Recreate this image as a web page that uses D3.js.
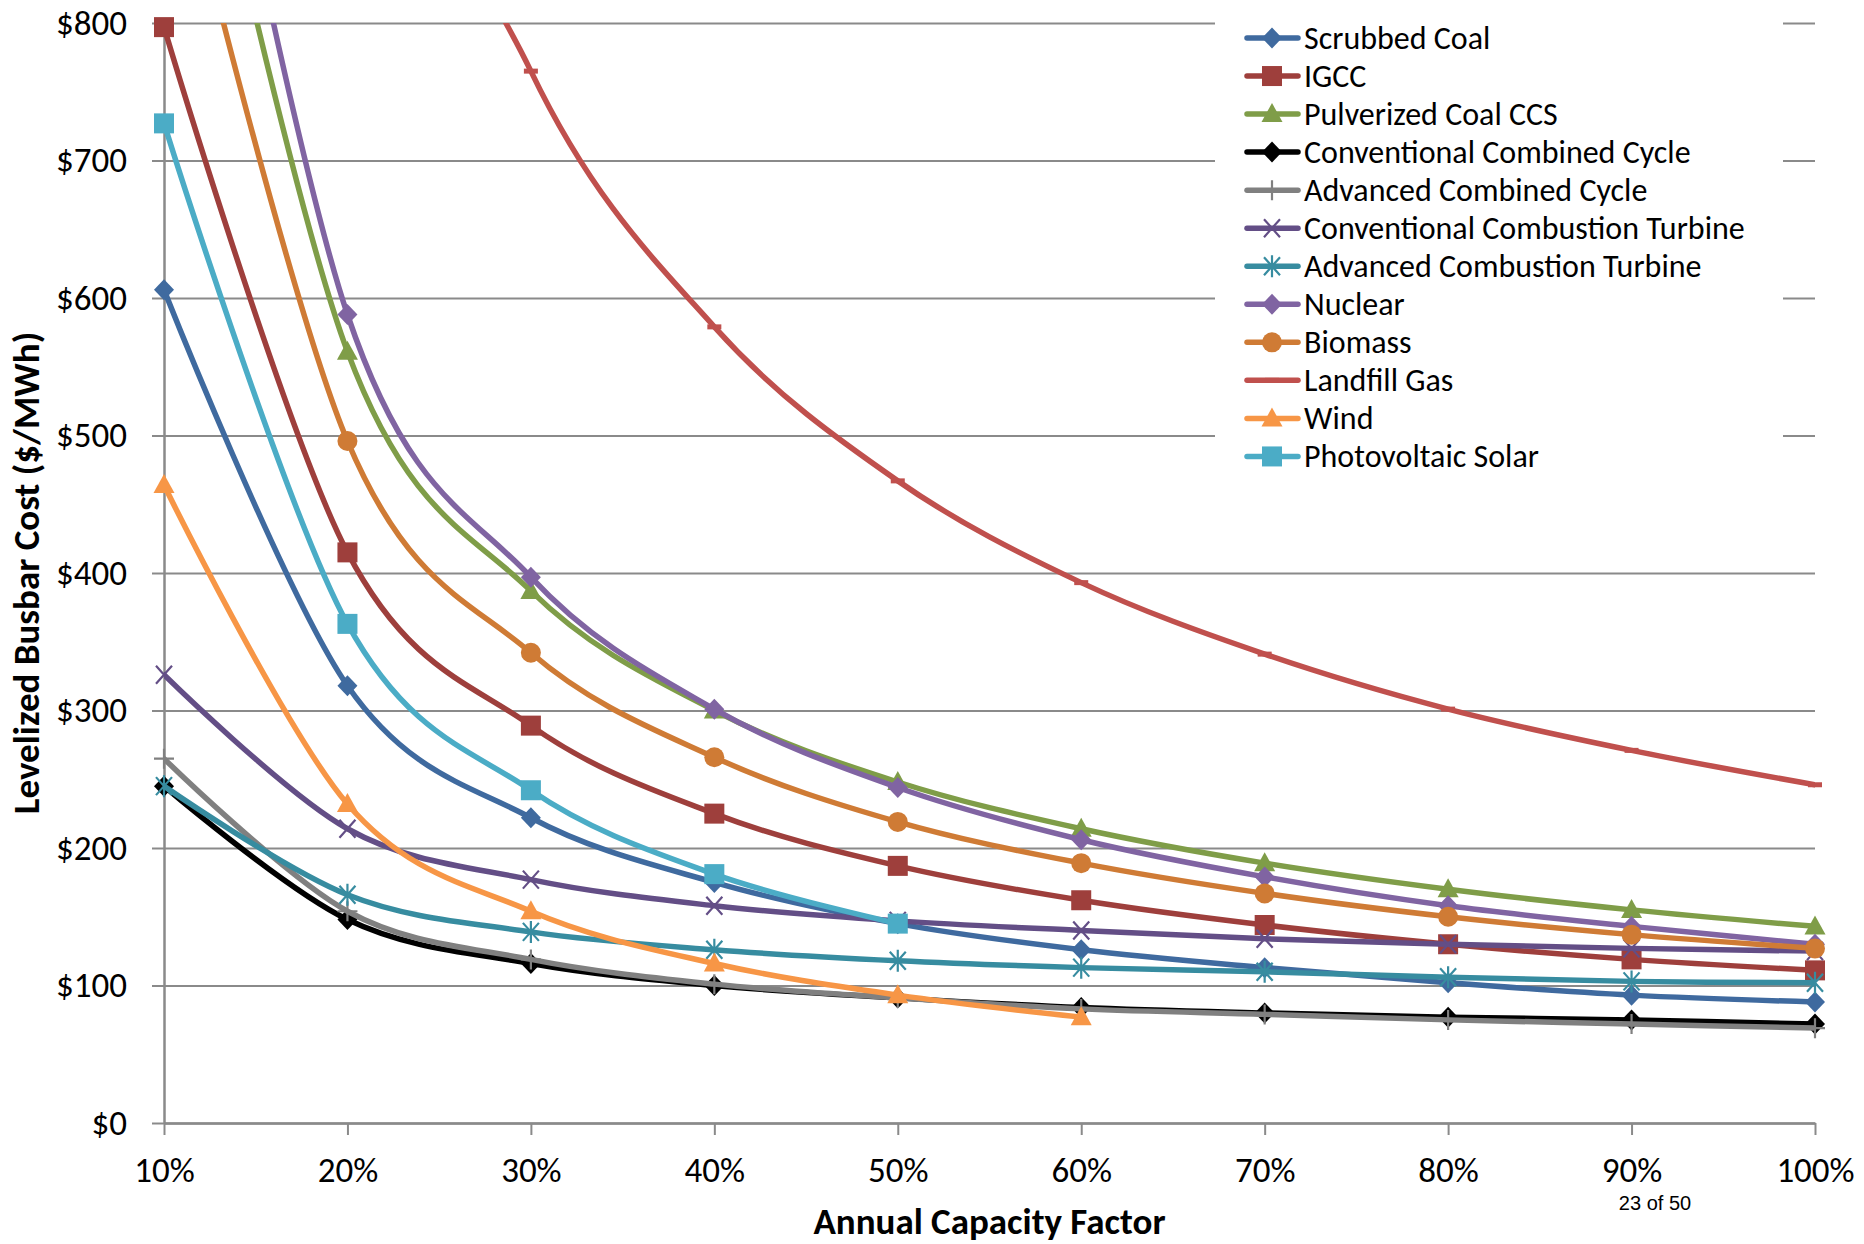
<!DOCTYPE html>
<html>
<head>
<meta charset="utf-8">
<script src="https://cdn.jsdelivr.net/npm/d3@7/dist/d3.min.js"></script>
<style>
  html, body { margin: 0; padding: 0; background: #ffffff; }
  svg text { font-family: Carlito, Calibri, Lato, "Open Sans", sans-serif; fill: #000; }
</style>
</head>
<body>
<svg id="chart" width="1864" height="1244"></svg>
<script>
// Annual capacity factor categories (%)
const capacityFactors = [10, 20, 30, 40, 50, 60, 70, 80, 90, 100];
const costTicks = [0, 100, 200, 300, 400, 500, 600, 700, 800];

// Levelized busbar cost, $/MWh, one value per capacity factor
const scrubbedCoal = [606, 318, 222, 175, 145, 126, 113, 102, 93, 88];
const igcc = [797, 415, 289, 225, 187, 162, 144, 130, 119, 111];
const pulverizedCoalCcs = [1100, 561, 387, 300, 248, 214, 189, 170, 155, 143];
const conventionalCombinedCycle = [245, 148, 116, 100, 91, 84, 80, 77, 75, 72];
const advancedCombinedCycle = [265, 154, 119, 101, 91, 83, 79, 75, 72, 69];
const conventionalCombustionTurbine = [326, 214, 177, 158, 147, 140, 134, 130, 127, 125];
const advancedCombustionTurbine = [245, 166, 139, 126, 118, 113, 110, 106, 103, 102];
const nuclear = [1189, 588, 397, 301, 244, 206, 179, 158, 143, 130];
const biomass = [973, 496, 342, 266, 219, 189, 167, 150, 137, 127];
const landfillGas = [2247, 1135, 765, 579, 467, 393, 341, 301, 271, 246];
const wind = [464, 232, 154, 116, 93, 77];
const photovoltaicSolar = [727, 363, 242, 181, 145];

const seriesNames = [
  "Scrubbed Coal", "IGCC", "Pulverized Coal CCS", "Conventional Combined Cycle",
  "Advanced Combined Cycle", "Conventional Combustion Turbine", "Advanced Combustion Turbine",
  "Nuclear", "Biomass", "Landfill Gas", "Wind", "Photovoltaic Solar"
];
const seriesValues = [
  scrubbedCoal, igcc, pulverizedCoalCcs, conventionalCombinedCycle,
  advancedCombinedCycle, conventionalCombustionTurbine, advancedCombustionTurbine,
  nuclear, biomass, landfillGas, wind, photovoltaicSolar
];
const seriesColors = [
  "#3f6a9f", "#9e3f3c", "#7f9d48", "#000000", "#808080", "#634e86",
  "#378ca0", "#8064a2", "#cf7b35", "#c0504d", "#f79646", "#4bacc6"
];
const seriesMarkers = [
  "diamond", "square", "triangle", "diamond", "plus", "cross",
  "asterisk", "diamond", "circle", "dash", "triangle", "square"
];

(function drawChart() {
  const series = seriesNames.map((name, i) => ({
    name,
    color: seriesColors[i],
    marker: seriesMarkers[i],
    points: seriesValues[i].map((v, j) => ({ cf: capacityFactors[j], v }))
  }));

  const svg = d3.select("#chart");
  const plotLeft = 164, plotRight = 1815, plotTop = 23, plotBottom = 1123;
  const x = d3.scaleLinear().domain([10, 100]).range([plotLeft, plotRight]);
  const y = d3.scaleLinear().domain([0, 800]).range([plotBottom, plotTop]);
  const gridColor = "#8a8a8a";

  // Horizontal gridlines
  svg.append("g")
    .attr("transform", `translate(${plotLeft},0)`)
    .call(d3.axisLeft(y).tickValues(costTicks).tickSize(-(plotRight - plotLeft)).tickFormat(""))
    .call(g => g.select(".domain").remove())
    .call(g => g.selectAll("line").attr("stroke", gridColor).attr("stroke-width", 2));

  // Y axis with dollar labels
  svg.append("g")
    .attr("transform", `translate(${plotLeft},0)`)
    .call(d3.axisLeft(y).tickValues(costTicks).tickSize(12).tickSizeOuter(0).tickPadding(25)
          .tickFormat(d => "$" + d))
    .call(g => g.select(".domain").attr("stroke", gridColor).attr("stroke-width", 2.5))
    .call(g => g.selectAll(".tick line").attr("stroke", gridColor).attr("stroke-width", 2))
    .call(g => g.selectAll("text").attr("font-size", 35).attr("font-family", null).attr("fill", "#000"));

  // X axis with percent labels
  svg.append("g")
    .attr("transform", `translate(0,${plotBottom})`)
    .call(d3.axisBottom(x).tickValues(capacityFactors).tickSize(12).tickSizeOuter(0).tickPadding(22)
          .tickFormat(d => d + "%"))
    .call(g => g.select(".domain").attr("stroke", gridColor).attr("stroke-width", 2.5))
    .call(g => g.selectAll(".tick line").attr("stroke", gridColor).attr("stroke-width", 2))
    .call(g => g.selectAll("text").attr("font-size", 35).attr("font-family", null).attr("fill", "#000"));

  // Axis titles
  svg.append("text")
    .attr("x", (plotLeft + plotRight) / 2).attr("y", 1234)
    .attr("text-anchor", "middle")
    .attr("font-size", 37).attr("font-weight", "bold")
    .text("Annual Capacity Factor");

  svg.append("text")
    .attr("transform", `translate(39,${(plotTop + plotBottom) / 2}) rotate(-90)`)
    .attr("text-anchor", "middle")
    .attr("font-size", 37).attr("font-weight", "bold")
    .text("Levelized Busbar Cost ($/MWh)");

  // Page number
  svg.append("text")
    .attr("x", 1655).attr("y", 1210)
    .attr("text-anchor", "middle")
    .style("font-family", "'Liberation Sans', Arial, sans-serif")
    .attr("font-size", 20)
    .text("23 of 50");

  // Plot clip so curves stop at the plot edges
  svg.append("defs").append("clipPath").attr("id", "plot-clip")
    .append("rect").attr("x", plotLeft).attr("y", plotTop)
    .attr("width", plotRight - plotLeft).attr("height", plotBottom - plotTop);

  function drawMarker(g, type, color) {
    switch (type) {
      case "diamond":
        g.append("path").attr("d", "M0,-10.5L10,0L0,10.5L-10,0Z").attr("fill", color); break;
      case "square":
        g.append("rect").attr("x", -10).attr("y", -10).attr("width", 20).attr("height", 20).attr("fill", color); break;
      case "triangle":
        g.append("path").attr("d", "M0,-11L10.5,8L-10.5,8Z").attr("fill", color); break;
      case "circle":
        g.append("circle").attr("r", 10).attr("fill", color); break;
      case "cross":
        g.append("path").attr("d", "M-8,-9L8,9M8,-9L-8,9").attr("stroke", color).attr("stroke-width", 2.2).attr("fill", "none"); break;
      case "asterisk":
        g.append("path").attr("d", "M-8,-9L8,9M8,-9L-8,9M0,-11L0,11").attr("stroke", color).attr("stroke-width", 2.2).attr("fill", "none"); break;
      case "plus":
        g.append("path").attr("d", "M0,-10L0,10M-10,0L10,0").attr("stroke", color).attr("stroke-width", 2.2).attr("fill", "none"); break;
      case "dash":
        g.append("rect").attr("x", -7).attr("y", -2.5).attr("width", 14).attr("height", 5).attr("fill", color); break;
    }
  }

  const line = d3.line()
    .x(d => x(d.cf))
    .y(d => y(d.v))
    .curve(d3.curveCardinal.tension(0));

  const plot = svg.append("g");
  series.forEach(s => {
    const g = plot.append("g");
    g.append("path")
      .datum(s.points)
      .attr("clip-path", "url(#plot-clip)")
      .attr("fill", "none")
      .attr("stroke", s.color)
      .attr("stroke-width", 5.5)
      .attr("stroke-linejoin", "round")
      .attr("stroke-linecap", "round")
      .attr("d", line);
    g.selectAll(".mk")
      .data(s.points.filter(p => p.v <= 800))
      .join("g")
      .attr("transform", d => `translate(${x(d.cf)},${y(d.v)})`)
      .each(function () { drawMarker(d3.select(this), s.marker, s.color); });
  });

  // Legend
  const legend = svg.append("g");
  legend.append("rect").attr("x", 1215).attr("y", 0).attr("width", 568).attr("height", 478).attr("fill", "#fff");
  series.forEach((s, i) => {
    const cy = 38 + i * 38.04;
    const row = legend.append("g").attr("transform", `translate(0,${cy})`);
    row.append("line").attr("x1", 1247).attr("x2", 1298).attr("y1", 0).attr("y2", 0)
      .attr("stroke", s.color).attr("stroke-width", 5.5).attr("stroke-linecap", "round");
    drawMarker(row.append("g").attr("transform", "translate(1272,0)"), s.marker, s.color);
    row.append("text").attr("x", 1304).attr("y", 0).attr("dy", "0.34em")
      .attr("font-size", 32).text(s.name);
  });
})();
</script>
</body>
</html>
